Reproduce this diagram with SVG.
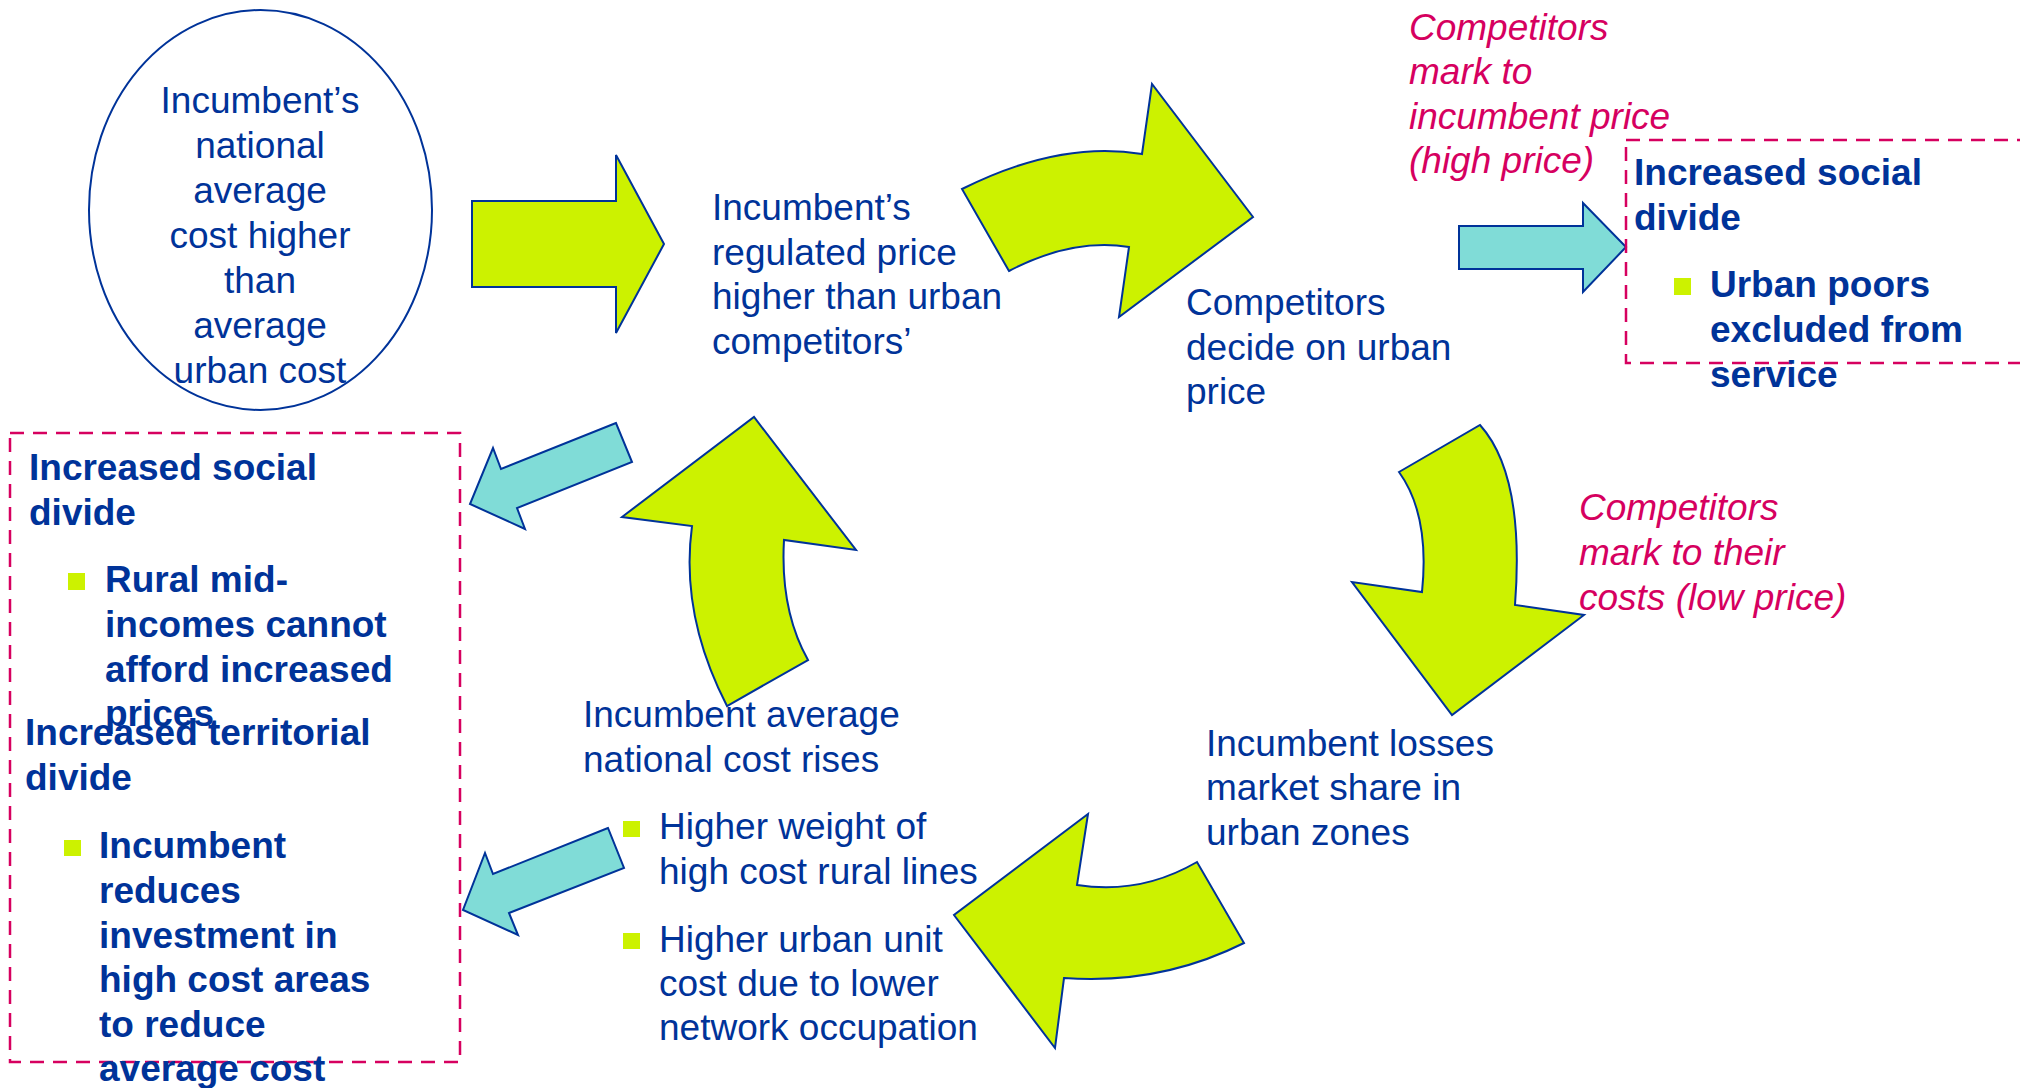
<svg xmlns="http://www.w3.org/2000/svg" width="2020" height="1088" viewBox="0 0 2020 1088">
<style>
text{font-family:"Liberation Sans",Arial,sans-serif;font-size:37px;fill:#003399}
.b{font-weight:bold}
.r{fill:#D6005F;font-style:italic}
.lime{fill:#CCF200;stroke:#003399;stroke-width:2;stroke-linejoin:miter}
.cyan{fill:#80DCD7;stroke:#003399;stroke-width:2;stroke-linejoin:miter}
.dash{fill:none;stroke:#D6005F;stroke-width:2.5;stroke-dasharray:14 9}
.bul{fill:#CCF200}
</style>
<rect width="2020" height="1088" fill="#ffffff"/>

<g id="connectors">
  <polygon class="lime" points="472,201 616,201 616,155 664,244 616,333 616,287 472,287"/>
  <path class="lime" d="M1009,271 L962,189 Q1060,140 1142,154 L1152,84 L1253,217 L1119,317 L1129,247 Q1072,238 1009,271 Z"/>
  <path class="lime" d="M1399,472 L1480,425 Q1525,475 1515,605 L1584,615 L1452,715 L1352,582 L1422,592 Q1430,515 1399,472 Z"/>
  <path class="lime" d="M1244,943 Q1160,985 1064,978 L1055,1048 L954,915 L1088,814 L1077,885 Q1140,895 1197,862 Z"/>
  <path class="lime" d="M727,706 Q680,615 692,526 L622,517 L754,417 L856,550 L784,540 Q780,610 808,660 Z"/>
  <polygon class="cyan" points="1459,226 1583,226 1583,203 1626,247 1583,292 1583,269 1459,269"/>
  <polygon class="cyan" points="616,423 501,469 493,448 470,504 525,529 517,508 632,462"/>
  <polygon class="cyan" points="608,828 493,874 485,853 463,910 518,935 509,913 624,868"/>
</g>

<g id="node-national-cost">
  <ellipse cx="260.5" cy="210" rx="171.5" ry="200" fill="none" stroke="#003399" stroke-width="2"/>
  <text x="260" y="113" text-anchor="middle">Incumbent’s</text>
  <text x="260" y="158" text-anchor="middle">national</text>
  <text x="260" y="203" text-anchor="middle">average</text>
  <text x="260" y="248" text-anchor="middle">cost higher</text>
  <text x="260" y="293" text-anchor="middle">than</text>
  <text x="260" y="338" text-anchor="middle">average</text>
  <text x="260" y="383" text-anchor="middle">urban cost</text>
</g>

<g id="node-regulated-price">
  <text x="712" y="220">Incumbent’s</text>
  <text x="712" y="264.5">regulated price</text>
  <text x="712" y="309">higher than urban</text>
  <text x="712" y="353.5">competitors’</text>
</g>

<g id="node-competitors-decide">
  <text x="1186" y="315">Competitors</text>
  <text x="1186" y="360">decide on urban</text>
  <text x="1186" y="404">price</text>
</g>

<g id="label-high-price">
  <text class="r" x="1409" y="39.5">Competitors</text>
  <text class="r" x="1409" y="84">mark to</text>
  <text class="r" x="1409" y="128.5">incumbent price</text>
  <text class="r" x="1409" y="173">(high price)</text>
</g>

<g id="node-social-divide-urban">
  <rect class="dash" x="1626" y="140" width="420" height="223"/>
  <text class="b" x="1634" y="185">Increased social</text>
  <text class="b" x="1634" y="230">divide</text>
  <rect class="bul" x="1674" y="278" width="17" height="17"/>
  <text class="b" x="1710" y="297">Urban poors</text>
  <text class="b" x="1710" y="342">excluded from</text>
  <text class="b" x="1710" y="387">service</text>
</g>

<g id="label-low-price">
  <text class="r" x="1579" y="520">Competitors</text>
  <text class="r" x="1579" y="565">mark to their</text>
  <text class="r" x="1579" y="610">costs (low price)</text>
</g>

<g id="node-market-share">
  <text x="1206" y="756">Incumbent losses</text>
  <text x="1206" y="800">market share in</text>
  <text x="1206" y="845">urban zones</text>
</g>

<g id="node-cost-rises">
  <text x="583" y="727">Incumbent average</text>
  <text x="583" y="772">national cost rises</text>
  <rect class="bul" x="623" y="821" width="17" height="16"/>
  <text x="659" y="839">Higher weight of</text>
  <text x="659" y="884">high cost rural lines</text>
  <rect class="bul" x="623" y="933" width="17" height="16"/>
  <text x="659" y="952">Higher urban unit</text>
  <text x="659" y="996">cost due to lower</text>
  <text x="659" y="1040">network occupation</text>
</g>

<g id="node-divides-left">
  <rect class="dash" x="10" y="433" width="450" height="629"/>
  <text class="b" x="29" y="480">Increased social</text>
  <text class="b" x="29" y="525">divide</text>
  <rect class="bul" x="68" y="573" width="17" height="17"/>
  <text class="b" x="105" y="592">Rural mid-</text>
  <text class="b" x="105" y="637">incomes cannot</text>
  <text class="b" x="105" y="682">afford increased</text>
  <text class="b" x="105" y="726">prices</text>
  <text class="b" x="25" y="745">Increased territorial</text>
  <text class="b" x="25" y="790">divide</text>
  <rect class="bul" x="64" y="840" width="17" height="16"/>
  <text class="b" x="99" y="858">Incumbent</text>
  <text class="b" x="99" y="903">reduces</text>
  <text class="b" x="99" y="948">investment in</text>
  <text class="b" x="99" y="992">high cost areas</text>
  <text class="b" x="99" y="1037">to reduce</text>
  <text class="b" x="99" y="1081">average cost</text>
</g>
</svg>
